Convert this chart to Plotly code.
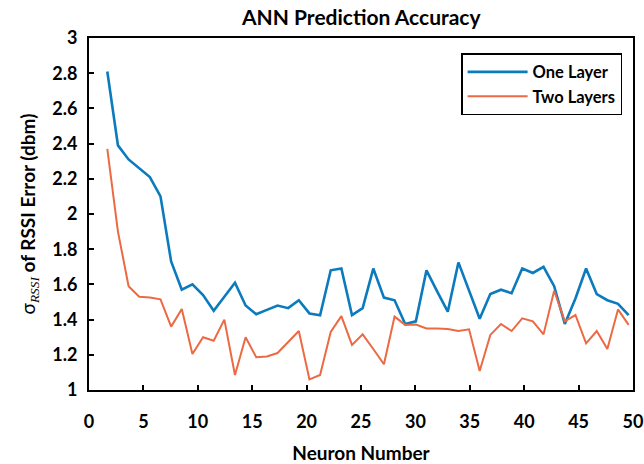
import plotly.graph_objects as go

# Neuron count per hidden layer
neurons = list(range(1, 51))

# Standard deviation of RSSI prediction error (dbm)
one_layer = [2.81, 2.39, 2.31, 2.26, 2.21, 2.10, 1.73, 1.57, 1.60, 1.54,
             1.45, 1.53, 1.61, 1.48, 1.43, 1.455, 1.48, 1.465, 1.51, 1.435,
             1.425, 1.68, 1.69, 1.425, 1.465, 1.69, 1.525, 1.51, 1.375, 1.39,
             1.68, 1.56, 1.445, 1.725, 1.565, 1.405, 1.545, 1.57, 1.55, 1.69,
             1.665, 1.70, 1.59, 1.375, 1.52, 1.69, 1.545, 1.51, 1.49, 1.425]
two_layers = [2.37, 1.90, 1.59, 1.53, 1.525, 1.515, 1.36, 1.46, 1.205, 1.30,
              1.28, 1.40, 1.085, 1.30, 1.186, 1.19, 1.21, 1.27, 1.335, 1.06,
              1.085, 1.33, 1.42, 1.256, 1.316, 1.233, 1.146, 1.417, 1.37, 1.372,
              1.35, 1.35, 1.347, 1.335, 1.345, 1.108, 1.313, 1.375, 1.335, 1.407,
              1.39, 1.316, 1.564, 1.39, 1.426, 1.265, 1.335, 1.233, 1.458, 1.37]

x_ticks = [0, 5, 10, 15, 20, 25, 30, 35, 40, 45, 50]
y_ticks = [1, 1.2, 1.4, 1.6, 1.8, 2, 2.2, 2.4, 2.6, 2.8, 3]

FONT = "Lato"

fig = go.Figure()
# empty trace so the framed x/y subplot (ticks, labels, box) is created
fig.add_trace(go.Scatter(x=[], y=[], mode="lines", showlegend=False, hoverinfo="skip"))
fig.add_trace(go.Scatter(x=neurons, y=one_layer, mode="lines", name="One Layer",
                         xaxis="x2", line=dict(color="#0b7bbd", width=2.6)))
fig.add_trace(go.Scatter(x=neurons, y=two_layers, mode="lines", name="Two Layers",
                         xaxis="x2", line=dict(color="#ec6a43", width=2.0)))

axis_line = dict(showline=True, linecolor="black", linewidth=2, mirror=True,
                 ticks="inside", ticklen=5, tickwidth=1.5, tickcolor="black",
                 showgrid=False, zeroline=False, automargin=False)

fig.update_layout(
    width=644, height=464,
    margin=dict(l=89, r=11, t=38, b=74),
    paper_bgcolor="white", plot_bgcolor="white",
    font=dict(family=FONT, color="black"),
    title=dict(text="<b>ANN Prediction Accuracy</b>", x=0.561, xanchor="center",
               y=0.963, yanchor="middle", font=dict(size=21, family=FONT)),
    xaxis=dict(range=[0, 50], tickvals=x_ticks, ticktext=[str(t) for t in x_ticks],
               tickfont=dict(size=18, family=FONT, weight="bold"),
               ticklabelstandoff=14,
               title=dict(text="<b>Neuron Number</b>", font=dict(size=19, family=FONT),
                          standoff=17),
               **axis_line),
    xaxis2=dict(overlaying="x", range=[-0.72, 50.41], visible=False),
    yaxis=dict(range=[1, 3], tickvals=y_ticks,
               ticktext=[f"{t:g}" for t in y_ticks],
               tickfont=dict(size=18, family=FONT, weight="bold"),
               ticklabelstandoff=6,
               title=dict(text="σ<sub><span style=\"font-family:'Liberation Serif';"
                               "font-style:italic\">RSSI</span></sub>"
                               "<b> of RSSI Error (dbm)</b>",
                          font=dict(size=19, family=FONT), standoff=12),
               **axis_line),
    legend=dict(x=0.684, y=0.957, xanchor="left", yanchor="top",
                bgcolor="white", bordercolor="black", borderwidth=1.5,
                font=dict(size=16.5, family=FONT, weight="bold"),
                itemwidth=60, tracegroupgap=0),
    showlegend=True,
)

fig.write_html("out.html")
